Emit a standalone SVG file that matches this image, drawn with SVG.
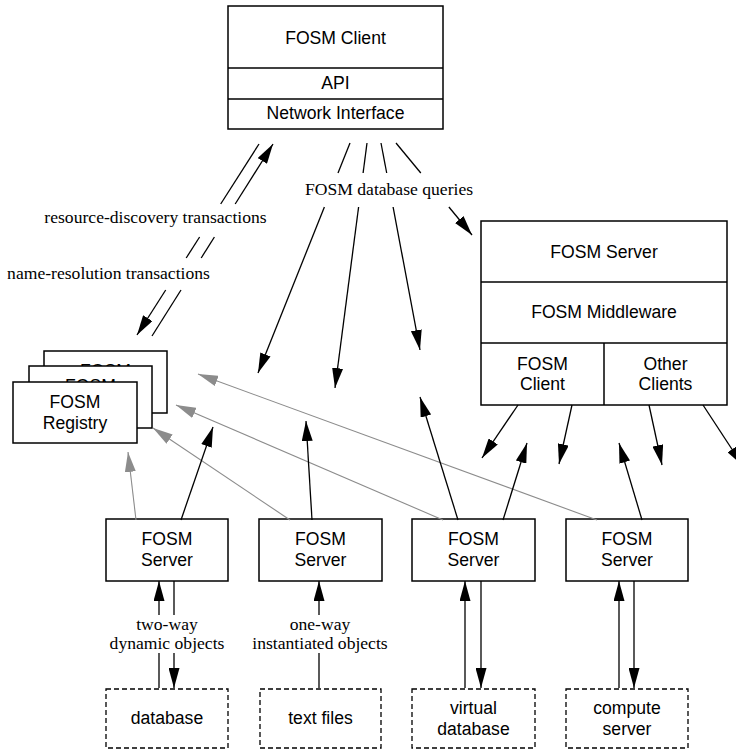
<svg xmlns="http://www.w3.org/2000/svg" width="736" height="750" viewBox="0 0 736 750">
  <defs>
    <marker id="ah" markerUnits="userSpaceOnUse" markerWidth="20" markerHeight="11" viewBox="0 0 20 11" refX="20" refY="5.5" orient="auto">
      <path d="M0,0 L20,5.5 L0,11 z" fill="#000"/>
    </marker>
    <marker id="ahg" markerUnits="userSpaceOnUse" markerWidth="20" markerHeight="11" viewBox="0 0 20 11" refX="20" refY="5.5" orient="auto">
      <path d="M0,0 L20,5.5 L0,11 z" fill="#8c8c8c"/>
    </marker>
    <!-- visible strips of the stacked registry cards behind the front one -->
    <clipPath id="clip-reg3"><rect x="44" y="351" width="108" height="15"/></clipPath>
    <clipPath id="clip-reg2"><rect x="29" y="366" width="108" height="16"/></clipPath>
  </defs>
  <style>
    .box { fill: #fff; stroke: #000; stroke-width: 1.5; }
    .dash { fill: #fff; stroke: #000; stroke-width: 1.3; stroke-dasharray: 5 3; }
    .sep { stroke: #000; stroke-width: 1.5; fill: none; }
    .sans { font-family: "Liberation Sans", Arial, sans-serif; font-size: 17.6px; fill: #000; text-anchor: middle; }
    .serif { font-family: "Liberation Serif", "Times New Roman", serif; font-size: 17.6px; fill: #000; text-anchor: middle; }
    .ln { stroke: #000; stroke-width: 1.3; fill: none; }
    .arr { stroke: #000; stroke-width: 1.3; fill: none; marker-end: url(#ah); }
    .garr { stroke: #8c8c8c; stroke-width: 1.1; fill: none; marker-end: url(#ahg); }
  </style>

  <rect width="736" height="750" fill="#fff"/>

  <!-- client at the top -->
  <g id="fosm-client">
    <rect class="box" x="228" y="6" width="215" height="123"/>
    <line class="sep" x1="228" y1="68" x2="443" y2="68"/>
    <line class="sep" x1="228" y1="99" x2="443" y2="99"/>
    <text class="sans" x="335.5" y="43.5">FOSM Client</text>
    <text class="sans" x="335.5" y="88.5">API</text>
    <text class="sans" x="335.5" y="119">Network Interface</text>
  </g>

  <!-- server with middleware and clients -->
  <g id="fosm-server-main">
    <rect class="box" x="481" y="221" width="246" height="184"/>
    <line class="sep" x1="481" y1="282" x2="727" y2="282"/>
    <line class="sep" x1="481" y1="343" x2="727" y2="343"/>
    <line class="sep" x1="604" y1="343" x2="604" y2="405"/>
    <text class="sans" x="604" y="257.5">FOSM Server</text>
    <text class="sans" x="604" y="318">FOSM Middleware</text>
    <text class="sans" x="542.5" y="369.5">FOSM</text>
    <text class="sans" x="542.5" y="390">Client</text>
    <text class="sans" x="665.5" y="369.5">Other</text>
    <text class="sans" x="665.5" y="390">Clients</text>
  </g>

  <!-- stacked registries -->
  <g id="fosm-registry-3">
    <rect class="box" x="44" y="351" width="123" height="62"/>
    <text class="sans" x="105.5" y="377" clip-path="url(#clip-reg3)">FOSM</text>
  </g>
  <g id="fosm-registry-2">
    <rect class="box" x="29" y="366" width="123" height="62"/>
    <text class="sans" x="90.5" y="392" clip-path="url(#clip-reg2)">FOSM</text>
  </g>
  <g id="fosm-registry-1">
    <rect class="box" x="13" y="382" width="124" height="61"/>
    <text class="sans" x="75" y="407.5">FOSM</text>
    <text class="sans" x="75" y="428.5">Registry</text>
  </g>

  <!-- servers -->
  <g id="server-1">
    <rect class="box" x="106" y="519" width="122" height="62"/>
    <text class="sans" x="167" y="545.3">FOSM</text>
    <text class="sans" x="167" y="566">Server</text>
  </g>
  <g id="server-2">
    <rect class="box" x="259" y="519" width="123" height="62"/>
    <text class="sans" x="320.5" y="545.3">FOSM</text>
    <text class="sans" x="320.5" y="566">Server</text>
  </g>
  <g id="server-3">
    <rect class="box" x="412" y="519" width="123" height="62"/>
    <text class="sans" x="473.5" y="545.3">FOSM</text>
    <text class="sans" x="473.5" y="566">Server</text>
  </g>
  <g id="server-4">
    <rect class="box" x="566" y="519" width="122" height="62"/>
    <text class="sans" x="627" y="545.3">FOSM</text>
    <text class="sans" x="627" y="566">Server</text>
  </g>

  <!-- data sources -->
  <g id="src-database">
    <rect class="dash" x="106" y="689" width="122" height="59"/>
    <text class="sans" x="167" y="724">database</text>
  </g>
  <g id="src-text-files">
    <rect class="dash" x="260" y="689" width="121" height="59"/>
    <text class="sans" x="320.5" y="724">text files</text>
  </g>
  <g id="src-virtual-database">
    <rect class="dash" x="412" y="689" width="123" height="59"/>
    <text class="sans" x="473.5" y="714">virtual</text>
    <text class="sans" x="473.5" y="735">database</text>
  </g>
  <g id="src-compute-server">
    <rect class="dash" x="566" y="689" width="122" height="59"/>
    <text class="sans" x="627" y="714">compute</text>
    <text class="sans" x="627" y="735">server</text>
  </g>

  <g id="connectors">
    <!-- registry transactions -->
    <line class="ln" x1="259" y1="144" x2="220.7" y2="204"/>
    <line class="ln" x1="199.6" y1="237" x2="186.2" y2="258"/>
    <line class="arr" x1="165.7" y1="290" x2="137" y2="335"/>
    <line class="arr" x1="235.2" y1="204" x2="273" y2="144"/>
    <line class="ln" x1="214.4" y1="237" x2="201.2" y2="258"/>
    <line class="ln" x1="181" y1="290" x2="152" y2="336"/>

    <!-- database queries -->
    <line class="ln" x1="350" y1="143" x2="338" y2="173"/>
    <line class="arr" x1="324.4" y1="207" x2="258" y2="373"/>
    <line class="ln" x1="367" y1="143" x2="363.1" y2="173"/>
    <line class="arr" x1="358.6" y1="207" x2="335" y2="388"/>
    <line class="ln" x1="381" y1="143" x2="386.7" y2="173"/>
    <line class="arr" x1="393.1" y1="207" x2="420" y2="350"/>
    <line class="ln" x1="396" y1="143" x2="420.8" y2="173"/>
    <line class="arr" x1="448.9" y1="207" x2="472" y2="235"/>

    <!-- outgoing requests from the main server -->
    <line class="arr" x1="518" y1="405" x2="482" y2="458"/>
    <line class="arr" x1="572" y1="405" x2="559" y2="464"/>
    <line class="arr" x1="649" y1="405" x2="662" y2="465"/>
    <line class="arr" x1="703" y1="405" x2="743" y2="466"/>

    <!-- registrations (grey) -->
    <line class="garr" x1="136" y1="520" x2="128" y2="452"/>
    <line class="garr" x1="290" y1="520" x2="153" y2="428"/>
    <line class="garr" x1="443" y1="520" x2="176" y2="405"/>
    <line class="garr" x1="597" y1="520" x2="198" y2="374"/>

    <!-- server replies -->
    <line class="arr" x1="181" y1="520" x2="213" y2="427"/>
    <line class="arr" x1="312" y1="520" x2="306" y2="421"/>
    <line class="arr" x1="458" y1="520" x2="420" y2="397"/>
    <line class="arr" x1="503" y1="520" x2="527" y2="443"/>
    <line class="arr" x1="642" y1="520" x2="619" y2="443"/>

    <!-- server to source links -->
    <line class="ln" x1="159" y1="688" x2="159" y2="653"/>
    <line class="arr" x1="159" y1="615" x2="159" y2="581"/>
    <line class="ln" x1="174" y1="581" x2="174" y2="615"/>
    <line class="arr" x1="174" y1="653" x2="174" y2="688"/>
    <line class="ln" x1="319" y1="688" x2="319" y2="653"/>
    <line class="arr" x1="319" y1="615" x2="319" y2="581"/>
    <line class="arr" x1="465" y1="688" x2="465" y2="581"/>
    <line class="arr" x1="481" y1="581" x2="481" y2="688"/>
    <line class="arr" x1="619" y1="688" x2="619" y2="581"/>
    <line class="arr" x1="634" y1="581" x2="634" y2="688"/>
  </g>

  <!-- connector labels -->
  <g id="labels">
    <text class="serif" x="389" y="195">FOSM database queries</text>
    <text class="serif" x="155.5" y="223">resource-discovery transactions</text>
    <text class="serif" x="108.5" y="278.5">name-resolution transactions</text>
    <text class="serif" x="167" y="629.5">two-way</text>
    <text class="serif" x="167" y="648.5">dynamic objects</text>
    <text class="serif" x="320" y="629.5">one-way</text>
    <text class="serif" x="320" y="648.5">instantiated objects</text>
  </g>
</svg>
